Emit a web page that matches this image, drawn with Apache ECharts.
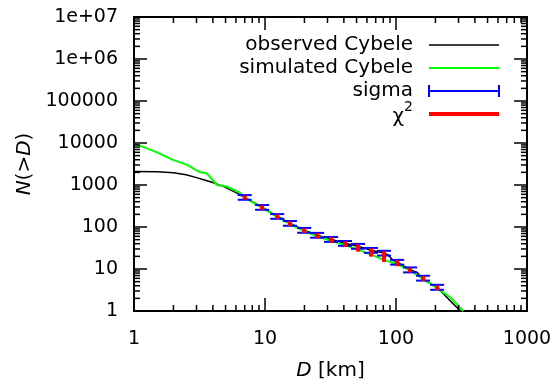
<!DOCTYPE html>
<html>
<head>
<meta charset="utf-8">
<script src="https://cdn.jsdelivr.net/npm/echarts@6/dist/echarts.min.js"></script>
<style>
  html, body { margin: 0; padding: 0; background: #fff; }
  #chart { width: 556px; height: 386px; }
</style>
</head>
<body>
<div id="chart"></div>
<script>
// Cumulative size distribution N(>D) of the Cybele group
const observedCurve = [
  [1, 2100], [1.5, 2060], [2, 1950], [2.5, 1750], [3, 1500], [3.5, 1300],
  [4, 1150], [5, 880], [6, 660], [7.0, 510], [9.5, 295], [12.4, 180],
  [15.5, 123], [19.9, 84], [25, 64], [31.9, 51], [40.8, 41], [51.3, 35],
  [64.4, 28], [81, 24], [88, 21], [95, 16], [102, 14.6], [128, 9.6],
  [145, 8.3], [152, 6.8], [167, 5.3], [206, 3.7], [245, 2.1], [309, 1]
];
const simulatedCurve = [
  [1, 9800], [1.5, 6000], [2, 3900], [2.5, 3100], [3.2, 2000], [3.6, 1900],
  [4.3, 1000], [5.1, 920], [6.45, 650], [7.0, 500], [9.5, 285], [12.4, 175],
  [15.5, 118], [19.9, 80], [25, 60], [31.9, 47], [40.8, 37], [51.3, 29],
  [64.4, 22], [81, 16.5], [102, 13], [128, 9.2], [161, 5.8], [206, 3.5],
  [260, 2.1], [325, 1]
];
// Comparison bins
const binD     = [7.0, 9.5, 12.4, 15.5, 19.9, 25, 31.9, 40.8, 51.3, 64.4, 81, 102, 128, 161, 206];
const binObs   = [510, 295, 180, 123, 84, 64, 51, 41, 35, 28, 24, 14.6, 9.6, 6.1, 3.7];
const binSim   = [500, 285, 175, 118, 80, 60, 47, 37, 29, 22, 16.5, 13, 9.2, 5.8, 3.5];
const binSigma = [65, 38, 23, 16, 11, 8.4, 6.7, 5.4, 4.6, 3.7, 3.1, 1.9, 1.3, 0.8, 0.5];

const xTickLabels = ['1', '10', '100', '1000'];
const yTickLabels = ['1', '10', '100', '1000', '10000', '100000', '1e+06', '1e+07'];
const legendNames = ['observed Cybele', 'simulated Cybele', 'sigma'];

const X_MIN = 1, X_MAX = 1000, Y_MIN = 1, Y_MAX = 1e7;
const FONT = 'DejaVu Sans';

// gnuplot-style mirrored log ticks: majors at decades, minors at 2..9
function logTicks(lo, hi) {
  const out = [];
  for (let d = lo; d < hi; d *= 10) {
    out.push([d, 1]);
    for (let k = 2; k <= 9; k++) out.push([d * k, 0]);
  }
  out.push([hi, 1]);
  return out;
}
const xTicks = logTicks(X_MIN, X_MAX).map(t => [t[0], Y_MIN, t[1]]);
const yTicks = logTicks(Y_MIN, Y_MAX).map(t => [X_MIN, t[0], t[1]]);

const MAJOR = 13, MINOR = 6;
const tickStyle = { stroke: '#000', lineWidth: 1.5 };

function renderXTick(params, api) {
  const v = api.value(0), len = api.value(2) ? MAJOR : MINOR;
  const b = api.coord([v, Y_MIN]), t = api.coord([v, Y_MAX]);
  return { type: 'group', children: [
    { type: 'line', shape: { x1: b[0], y1: b[1], x2: b[0], y2: b[1] - len }, style: tickStyle },
    { type: 'line', shape: { x1: t[0], y1: t[1], x2: t[0], y2: t[1] + len }, style: tickStyle }
  ]};
}
function renderYTick(params, api) {
  const v = api.value(1), len = api.value(2) ? MAJOR : MINOR;
  const l = api.coord([X_MIN, v]), r = api.coord([X_MAX, v]);
  return { type: 'group', children: [
    { type: 'line', shape: { x1: l[0], y1: l[1], x2: l[0] + len, y2: l[1] }, style: tickStyle },
    { type: 'line', shape: { x1: r[0], y1: r[1], x2: r[0] - len, y2: r[1] }, style: tickStyle }
  ]};
}

const CAP = 7;
function renderSigma(params, api) {
  const x = api.value(0);
  const lo = api.coord([x, api.value(1)]), hi = api.coord([x, api.value(2)]);
  const st = { stroke: '#0000ff', lineWidth: 2 };
  return { type: 'group', children: [
    { type: 'line', shape: { x1: lo[0], y1: lo[1], x2: hi[0], y2: hi[1] }, style: st },
    { type: 'line', shape: { x1: lo[0] - CAP, y1: lo[1], x2: lo[0] + CAP, y2: lo[1] }, style: st },
    { type: 'line', shape: { x1: hi[0] - CAP, y1: hi[1], x2: hi[0] + CAP, y2: hi[1] }, style: st }
  ]};
}
function renderChi(params, api) {
  const x = api.value(0);
  const a = api.coord([x, api.value(1)]), b = api.coord([x, api.value(2)]);
  return { type: 'line', shape: { x1: a[0], y1: a[1], x2: b[0], y2: b[1] },
           style: { stroke: '#ff0000', lineWidth: 4, lineCap: 'square' } };
}

const sigmaData = binD.map((d, i) => [d, binObs[i] - binSigma[i], binObs[i] + binSigma[i]]);
const chiData = binD.map((d, i) => [d, binSim[i], binObs[i]]);

const chart = echarts.init(document.getElementById('chart'));

// legend drawn gnuplot-style: right-aligned text, sample to its right
const LX_TEXT = 413, LX0 = 429, LX1 = 499, LY = [45, 68, 91, 114];
const legendText = (txt, y) => ({
  type: 'text', x: LX_TEXT, y: y,
  style: { text: txt, font: '20px "' + FONT + '"', fill: '#000', align: 'right', verticalAlign: 'middle' }
});

chart.setOption({
  animation: false,
  backgroundColor: '#fff',
  grid: { left: 134, right: 29, top: 17, bottom: 74, show: true, borderColor: '#000', borderWidth: 2 },
  xAxis: {
    type: 'log', logBase: 10, min: X_MIN, max: X_MAX,
    axisLine: { show: false }, axisTick: { show: false }, splitLine: { show: false },
    axisLabel: {
      margin: 19, color: '#000', fontFamily: FONT, fontSize: 19,
      formatter: v => xTickLabels[Math.round(Math.log10(v))]
    },
    name: '{i|D} [km]', nameLocation: 'middle', nameGap: 50,
    nameTextStyle: { color: '#000', fontFamily: FONT, fontSize: 20,
      rich: { i: { fontStyle: 'italic', fontFamily: FONT, fontSize: 20, color: '#000' } } }
  },
  yAxis: {
    type: 'log', logBase: 10, min: Y_MIN, max: Y_MAX,
    axisLine: { show: false }, axisTick: { show: false }, splitLine: { show: false },
    axisLabel: {
      margin: 16, color: '#000', fontFamily: FONT, fontSize: 19,
      formatter: v => yTickLabels[Math.round(Math.log10(v))]
    },
    name: '{i|N}(>{i|D})', nameLocation: 'middle', nameGap: 98, nameRotate: 90,
    nameTextStyle: { color: '#000', fontFamily: FONT, fontSize: 20,
      rich: { i: { fontStyle: 'italic', fontFamily: FONT, fontSize: 20, color: '#000' } } }
  },
  series: [
    { name: legendNames[0], type: 'line', data: observedCurve, symbol: 'none', z: 2,
      lineStyle: { color: '#000', width: 1.5 } },
    { name: legendNames[1], type: 'line', data: simulatedCurve, symbol: 'none', z: 3,
      lineStyle: { color: '#00ff00', width: 2 } },
    { name: legendNames[2], type: 'custom', renderItem: renderSigma, data: sigmaData, z: 4, clip: false },
    { name: 'chi2', type: 'custom', renderItem: renderChi, data: chiData, z: 5, clip: false },
    { type: 'custom', renderItem: renderXTick, data: xTicks, z: 6, clip: false, silent: true },
    { type: 'custom', renderItem: renderYTick, data: yTicks, z: 6, clip: false, silent: true }
  ],
  graphic: [
    legendText(legendNames[0], LY[0]),
    { type: 'line', shape: { x1: LX0, y1: LY[0], x2: LX1, y2: LY[0] }, style: { stroke: '#000', lineWidth: 1.5 } },
    legendText(legendNames[1], LY[1]),
    { type: 'line', shape: { x1: LX0, y1: LY[1], x2: LX1, y2: LY[1] }, style: { stroke: '#00ff00', lineWidth: 2 } },
    legendText(legendNames[2], LY[2]),
    { type: 'line', shape: { x1: LX0, y1: LY[2], x2: LX1, y2: LY[2] }, style: { stroke: '#0000ff', lineWidth: 2 } },
    { type: 'line', shape: { x1: LX0, y1: LY[2] - 6, x2: LX0, y2: LY[2] + 6 }, style: { stroke: '#0000ff', lineWidth: 2 } },
    { type: 'line', shape: { x1: LX1, y1: LY[2] - 6, x2: LX1, y2: LY[2] + 6 }, style: { stroke: '#0000ff', lineWidth: 2 } },
    { type: 'text', x: 404, y: LY[3] + 3,
      style: { text: 'χ', font: '20px "' + FONT + '"', fill: '#000', align: 'right', verticalAlign: 'middle' } },
    { type: 'text', x: 404, y: LY[3] - 7,
      style: { text: '2', font: '14px "' + FONT + '"', fill: '#000', align: 'left', verticalAlign: 'middle' } },
    { type: 'line', shape: { x1: LX0, y1: LY[3], x2: LX1, y2: LY[3] }, style: { stroke: '#ff0000', lineWidth: 4 } }
  ]
});
</script>
</body>
</html>
